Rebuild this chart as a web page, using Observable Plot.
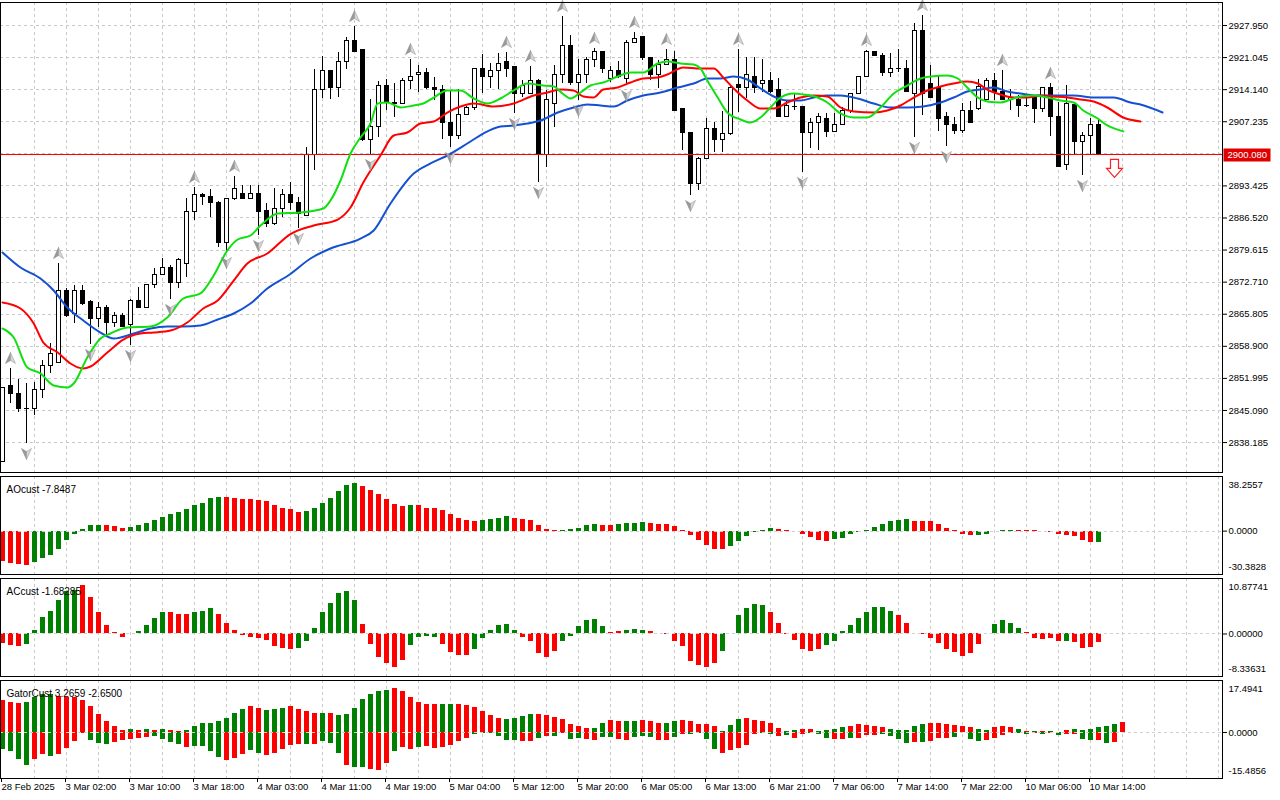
<!DOCTYPE html>
<html><head><meta charset="utf-8">
<script src="https://cdn.jsdelivr.net/npm/d3@7"></script>
<script src="https://cdn.jsdelivr.net/npm/@observablehq/plot@0.6"></script>
<style>
body{margin:0;background:#fff;}
#chart{position:relative;width:1280px;height:800px;overflow:hidden;background:#fff;}
#chart svg{position:absolute;left:0;}
</style></head><body><div id="chart"></div>
<script>
// ---------- price data (H1 candles, index 0 = 28 Feb 2025) ----------
const opens = [2833.9,2850.46,2848.74,2845.3,2845.3,2849.6,2854.77,2855.41,2870.91,2865.75,
2870.91,2868.33,2864.88,2867.25,2863.81,2865.53,2863.59,2868.76,2867.25,2871.99,
2874.35,2875.65,2872.42,2876.72,2887.91,2891.57,2890.93,2889.85,2881.24,2890.5,
2891.79,2890.71,2891.79,2888.13,2885.33,2888.56,2891.36,2889.64,2887.05,2899.97,
2914.17,2918.05,2914.6,2919.99,2924.72,2922.57,2903.2,2906.0,2915.03,2911.37,
2911.16,2916.11,2917.19,2917.62,2914.39,2913.96,2907.07,2904.06,2908.79,2910.3,
2918.48,2916.76,2918.05,2919.99,2918.91,2913.1,2913.31,2916.11,2899.97,2911.16,
2917.19,2923.64,2915.68,2917.4,2920.42,2922.14,2916.54,2918.26,2916.54,2924.29,
2925.37,2921.06,2917.4,2919.55,2920.63,2910.08,2904.71,2893.94,2899.32,2905.78,
2903.2,2904.49,2915.25,2914.39,2916.97,2915.46,2916.11,2913.96,2908.36,2910.51,
2910.51,2904.71,2906.86,2907.93,2904.92,2906.43,2909.44,2913.31,2916.97,2922.35,
2921.49,2917.83,2918.69,2918.69,2913.31,2926.66,2915.46,2914.39,2908.15,2906.64,
2905.35,2909.65,2909.87,2911.81,2916.11,2913.74,2911.81,2911.81,2910.73,2912.88,
2909.87,2914.39,2908.36,2897.82,2910.94,2902.77,2904.06,2906.64];
const highs = [2850.03,2854.12,2851.75,2850.89,2851.11,2855.85,2859.5,2876.72,2871.34,2871.99,
2871.99,2868.76,2868.33,2867.68,2866.18,2865.96,2868.97,2871.56,2872.2,2875.65,
2877.8,2876.29,2877.8,2890.71,2893.08,2891.79,2892.65,2890.07,2890.71,2895.45,
2893.51,2893.51,2893.51,2889.64,2892.86,2892.65,2894.16,2890.93,2901.69,2918.48,
2921.28,2918.26,2922.14,2925.37,2927.73,2922.78,2912.02,2915.89,2916.33,2915.46,
2916.54,2920.63,2919.34,2918.69,2916.76,2915.03,2913.74,2914.17,2910.51,2918.69,
2921.71,2919.77,2921.92,2922.14,2918.9,2916.11,2919.12,2916.33,2913.96,2919.34,
2929.89,2925.8,2920.63,2921.06,2923.0,2922.14,2919.12,2920.2,2924.72,2926.44,
2925.58,2921.06,2920.42,2922.78,2922.35,2910.08,2904.92,2899.54,2907.93,2907.07,
2909.44,2914.82,2922.78,2921.06,2921.06,2920.63,2917.83,2916.54,2911.81,2913.31,
2910.51,2907.93,2909.01,2909.01,2909.01,2910.3,2913.31,2916.97,2922.57,2922.4,
2921.92,2921.92,2922.78,2920.42,2928.38,2930.1,2919.34,2917.19,2909.22,2908.15,
2911.16,2911.59,2916.33,2916.54,2917.62,2918.26,2914.17,2912.88,2912.45,2912.88,
2914.6,2915.46,2911.37,2915.03,2910.94,2904.92,2907.93,2907.93];
const lows = [2833.9,2846.59,2844.65,2837.98,2844.0,2847.66,2853.05,2855.2,2865.1,2863.81,
2867.68,2859.29,2862.95,2861.22,2862.95,2862.95,2859.07,2867.04,2867.04,2871.34,
2874.14,2868.97,2871.34,2873.71,2885.98,2889.21,2886.62,2880.17,2879.09,2890.28,
2890.5,2890.5,2882.75,2884.47,2884.9,2886.62,2888.13,2884.26,2886.84,2896.74,
2912.24,2912.02,2912.45,2918.48,2922.14,2902.98,2900.18,2903.84,2909.65,2908.15,
2910.94,2914.17,2913.53,2914.17,2911.81,2903.41,2901.69,2903.41,2908.58,2909.65,
2913.31,2914.39,2914.17,2916.76,2909.01,2912.45,2913.1,2894.16,2897.39,2906.0,
2915.46,2915.03,2911.81,2915.46,2918.91,2917.62,2915.68,2916.54,2915.03,2924.29,
2920.42,2916.11,2914.39,2919.55,2909.65,2901.04,2891.36,2892.43,2899.11,2900.61,
2900.61,2904.27,2909.22,2912.24,2913.31,2913.53,2913.31,2908.36,2908.36,2909.65,
2896.31,2901.47,2901.04,2903.84,2904.92,2906.43,2909.01,2913.31,2916.76,2921.28,
2916.97,2916.76,2917.83,2913.53,2903.84,2908.58,2912.24,2905.13,2901.9,2904.49,
2904.71,2906.86,2909.65,2911.81,2911.81,2911.81,2909.65,2908.15,2910.3,2906.86,
2909.22,2904.06,2897.6,2896.74,2899.97,2895.66,2899.97,2899.97];
const closes = [2850.03,2848.74,2845.3,2845.4,2849.6,2854.77,2857.35,2870.91,2865.53,2870.91,
2868.11,2864.88,2867.25,2863.81,2865.53,2863.16,2868.76,2867.25,2871.99,2874.35,
2875.65,2872.42,2877.58,2887.91,2891.57,2890.93,2889.85,2881.24,2890.5,2892.86,
2890.71,2891.79,2887.91,2885.33,2888.56,2891.36,2889.64,2887.48,2899.97,2913.96,
2918.05,2914.6,2919.99,2924.72,2922.35,2903.2,2906.21,2915.03,2911.37,2911.16,
2916.11,2916.97,2917.62,2914.39,2913.96,2906.86,2904.06,2908.79,2910.3,2918.48,
2916.76,2918.05,2919.77,2918.69,2913.31,2915.03,2916.11,2899.97,2911.81,2917.19,
2923.64,2915.68,2917.19,2920.42,2922.14,2918.69,2918.05,2916.76,2924.29,2925.15,
2921.06,2917.19,2919.55,2920.63,2909.65,2904.71,2893.94,2899.32,2905.78,2903.2,
2904.49,2914.39,2914.39,2917.19,2914.39,2916.11,2913.74,2908.36,2910.73,2910.45,
2904.71,2906.86,2908.15,2904.92,2906.64,2909.65,2913.1,2916.97,2922.14,2921.28,
2917.83,2918.69,2918.65,2913.53,2926.66,2913.31,2912.45,2907.93,2906.43,2905.35,
2909.65,2906.86,2914.82,2916.11,2913.53,2912.02,2912.45,2910.73,2910.7,2910.08,
2914.39,2908.15,2897.6,2911.16,2902.77,2904.06,2906.64,2900.08];

// ---------- Alligator lines: [bar index, price] ----------
const jaw = [[0,2879.09],[2.25,2875.86],[4.75,2873.49],[6.4,2870.91],[8.1,2867.25],[10.1,2864.45],[12.25,2861.87],[13.9,2860.58],[16.4,2861.66],[18.5,2862.73],[20.6,2863.16],[22.6,2863.16],[24.75,2863.38],[26.9,2864.67],[28.9,2865.96],[31,2868.11],[33.1,2871.34],[35.9,2874.35],[38.5,2877.8],[41,2879.95],[44.75,2882.1],[46.4,2883.82],[48.5,2889.64],[51.4,2896.09],[53.5,2898.25],[55.6,2899.97],[58.1,2902.55],[60.1,2904.7],[62.25,2906.21],[63.9,2906.43],[65.6,2906.86],[67.25,2907.5],[69.4,2909.22],[71.4,2910.3],[73.1,2910.95],[74.75,2910.73],[76.4,2910.51],[78.1,2911.81],[80.1,2912.88],[82.25,2913.53],[84.4,2914.6],[86.4,2915.46],[88.1,2916.54],[89.75,2916.54],[91.4,2916.97],[93.1,2916.33],[94.75,2914.39],[96.4,2912.67],[98.1,2911.81],[99.75,2911.81],[101.4,2912.45],[103.1,2912.88],[104.75,2912.88],[106.9,2912.24],[108.9,2911.16],[111,2910.3],[113.1,2910.3],[115.1,2910.51],[117.25,2911.37],[118.9,2912.45],[120.6,2913.74],[122.25,2914.17],[123.9,2914.6],[125.6,2913.74],[127.25,2913.31],[128.9,2912.88],[131.9,2912.88],[133.9,2912.88],[136.4,2912.45],[138.9,2912.45],[141,2911.37],[142.25,2910.94],[145,2909.22]];
const teeth = [[0,2868.33],[2.25,2867.04],[3.9,2863.81],[5.1,2859.72],[6.9,2857.57],[8.5,2855.2],[10.1,2854.12],[11,2854.55],[13.1,2857.57],[15.1,2860.36],[17.25,2861.66],[18.9,2861.87],[21,2862.3],[23.1,2864.02],[25.1,2867.04],[26.9,2868.76],[28.9,2873.06],[30.6,2876.72],[33.1,2878.87],[35.9,2882.96],[38.9,2884.9],[41.9,2886.19],[43.5,2888.77],[45.1,2894.16],[47.25,2899.97],[48.9,2904.27],[50.6,2904.92],[52.25,2906.86],[53.9,2907.29],[55.6,2909.22],[57.25,2910.51],[58.9,2911.16],[61.4,2910.51],[63.9,2911.16],[66.4,2912.88],[68.1,2913.53],[69.75,2914.17],[71.4,2913.96],[72.6,2912.67],[73.9,2912.45],[75.1,2914.17],[76.9,2914.6],[78.5,2915.68],[80.1,2916.54],[81.9,2916.76],[83.1,2917.4],[85.1,2918.91],[87.25,2918.69],[88.9,2918.69],[90.1,2916.76],[91.4,2914.39],[93.1,2911.81],[94.75,2910.08],[96.4,2910.08],[98.1,2911.37],[99.75,2912.45],[101.4,2912.88],[103.1,2912.67],[104.75,2910.3],[106.4,2909.44],[108.9,2909.22],[110.6,2909.65],[112.25,2910.73],[113.9,2912.45],[115.6,2913.96],[117.25,2914.82],[118.9,2915.46],[120.6,2915.89],[121.9,2915.46],[123.1,2914.17],[124.75,2913.1],[126.4,2912.45],[128.1,2912.45],[129.75,2912.88],[131.4,2912.67],[133.1,2912.45],[134.75,2912.02],[136.4,2911.59],[138.1,2910.3],[140.1,2908.15],[142.25,2907.29]];
const lips = [[0,2862.73],[1.4,2860.79],[3.1,2854.34],[4.75,2853.05],[6.4,2850.46],[8.1,2850.03],[8.9,2850.89],[10.6,2856.49],[12.25,2860.58],[13.5,2861.66],[15.6,2862.95],[18.5,2863.16],[20.6,2865.1],[22.6,2869.19],[24.75,2870.27],[26.4,2874.14],[28.1,2879.52],[29.4,2881.89],[31,2882.75],[32.25,2884.9],[34.4,2887.48],[37.25,2887.7],[40.1,2888.56],[41,2890.28],[42.25,2894.59],[43.5,2900.4],[44.75,2903.84],[46,2906.86],[46.9,2911.16],[48.1,2911.38],[49.75,2910.3],[51.4,2910.73],[52.6,2911.16],[53.9,2912.45],[55.6,2913.96],[57.25,2913.96],[58.9,2912.24],[60.6,2911.16],[62.25,2912.24],[63.9,2913.96],[65.6,2915.46],[67.6,2915.03],[68.9,2914.82],[70,2913.31],[71,2912.24],[72.25,2913.53],[73.5,2915.03],[75.1,2915.68],[76.9,2916.97],[78.5,2917.83],[80.1,2917.83],[81.9,2919.77],[83.1,2920.2],[84.75,2919.77],[86.4,2919.55],[87.25,2918.69],[88.1,2916.11],[89.4,2912.45],[90.6,2909.22],[92.25,2907.72],[93.5,2907.07],[94.75,2908.15],[96,2910.3],[97.25,2912.45],[98.9,2913.31],[100.1,2913.1],[101.9,2912.45],[103.1,2911.37],[104.75,2909.01],[106.4,2908.15],[108.1,2908.15],[109.75,2910.3],[111.4,2913.31],[113.1,2915.03],[114.75,2916.54],[116,2916.97],[118.1,2917.19],[119.4,2916.54],[120.6,2914.6],[121.9,2912.45],[123.1,2911.59],[124.75,2911.37],[126,2912.02],[127.25,2912.67],[128.9,2912.88],[130.6,2912.45],[132.25,2911.81],[133.9,2911.37],[135.1,2909.65],[136.9,2907.93],[138.1,2906.43],[140.1,2905.16]];

// ---------- fractals & signal ----------
const upFractals = [1,7,24,29,44,51,63,66,70,74,79,83,92,108,115,125,131];
const downFractals = [3,11,16,21,28,32,37,46,56,64,67,72,78,86,100,114,118,135];
const signalIdx = 139, signalPrice = 2897.2;

// ---------- AO ----------
const aoVals = [-21.2,-22.4,-23.6,-24.3,-21.9,-19.4,-17.3,-13.1,-6.8,-2.6,
1.4,3.6,3.8,3.7,3.5,2.1,2.8,3.7,5.1,7.2,
9.8,11.4,13.3,14.9,17.7,19.6,22.6,23.3,23.2,22.6,
21.9,21.8,21.2,20.5,18.0,16.1,14.9,13.3,13.5,15.6,
19.6,22.6,27.6,32.0,33.2,31.3,28.3,25.9,21.9,18.7,
17.3,17.7,17.6,16.1,16.0,14.2,11.4,8.6,7.2,6.5,
7.2,7.9,9.1,10.0,9.1,7.9,7.2,3.7,0.9,0.3,
0.5,0.9,1.9,4.0,4.9,4.2,4.1,4.9,5.0,5.6,
5.7,5.4,4.9,4.8,3.5,0.3,-3.3,-6.8,-9.8,-12.6,
-12.7,-10.5,-7.0,-4.0,-1.2,0.5,1.9,1.2,0.5,-0.1,
-2.3,-4.7,-6.3,-7.5,-5.6,-5.1,-2.3,-1.2,0.2,2.8,
4.7,7.0,7.7,7.8,7.0,6.9,6.5,4.7,1.9,0.2,
-2.1,-3.3,-3.2,-2.1,-0.5,0.5,0.6,0.5,0.4,0.3,
-0.1,-1.2,-2.3,-3.3,-4.0,-6.8,-7.9,-7.8487];
const aoColors = ("rrrr"+"ggggggggg"+"rrr"+"gggggggggggg"+"rrrrrrrrrr"+"ggggggg"+"rrrrrr"+"g"+"rrrrrrrr"+"gggg"+"rrrrrr"+"ggggg"+"rr"+"gggg"+"rrrrrrrrrr"+"gggggg"+"rrrrrrr"+"gggggggggg"+"rrrrrrrr"+"ggggg"+"rrrrrrrrrr"+"g").split("");
const aoRange = [38.2557, -30.3828];

// ---------- AC ----------
const acVals = [-1.9,-2.35,-2.45,-2.1,0.65,3.3,4.4,6.5,8.4,8.45,
9.5,7.2,4.2,1.6,0.3,-0.65,0.1,0.5,1.6,3.1,
4.2,4.2,3.9,3.8,4.2,4.4,5.0,3.8,2.0,0.65,
-0.3,-0.65,-0.8,-1.2,-2.4,-2.75,-3.0,-2.75,-1.45,1.05,
4.2,5.9,7.9,8.3,6.5,1.8,-2.1,-4.6,-5.8,-6.5,
-5.2,-2.2,-0.65,-0.45,-0.65,-2.1,-3.6,-4.2,-4.2,-3.0,
-0.85,0.65,1.6,1.8,0.65,-0.65,-1.45,-3.8,-4.6,-3.4,
-1.45,-0.45,1.5,2.6,2.8,1.5,0.25,0.45,0.65,0.85,
0.65,0.45,0.05,-0.05,-1.45,-2.4,-5.4,-6.1,-6.5,-5.8,
-3.4,0.1,3.6,5.0,5.75,5.55,4.2,2.0,-0.1,-1.25,
-3.0,-3.4,-3.1,-2.2,-1.45,0.45,1.6,3.1,4.2,5.2,
5.1,4.4,3.65,2.0,0.1,-0.05,-0.85,-1.8,-3.0,-3.6,
-4.4,-3.85,-2.1,0.1,1.8,2.6,2.15,1.05,0.25,-0.85,
-1.1,-0.85,-1.45,-1.5,-1.65,-2.8,-2.6,-1.68285];
const acColors = ("rrrgggggggrrrrrrgggggrrrgggrrrrrrrrrrggggggggrrrrrrggggrrrrggggggrrrrrggggggrrgggrrrrrrrrrggggggrrrrrrrgggggggggrrrrrrrrrrrgggggrrrrrgrrrrgg").split("");
const acRange = [10.87741, -8.33631];

// ---------- Gator ----------
const gatorUp = [10.7,10.1,9.9,10.1,11.8,12.7,12.9,12.0,11.8,11.7,
10.7,8.6,6.1,3.7,2.0,0.8,0.9,0.6,0.9,0.6,
0.9,0.6,0.3,0.6,1.9,3.0,3.1,3.7,4.7,6.4,
7.7,8.6,8.1,7.4,7.7,8.1,8.6,7.6,7.1,6.5,
6.4,6.5,5.6,6.2,8.1,11.1,12.8,13.7,14.0,14.8,
13.8,11.8,10.1,9.5,9.4,9.3,9.4,9.5,9.0,8.4,
7.1,5.6,4.8,4.5,4.8,5.4,5.9,6.1,5.7,5.0,
4.5,2.8,1.9,1.5,1.35,3.0,3.9,3.8,3.6,3.7,
3.9,3.6,3.0,2.95,3.7,3.9,3.6,2.8,2.6,1.9,
0.35,2.2,4.3,4.7,3.9,3.7,3.0,1.5,0.35,0.55,
0.9,0.85,0.35,0.55,1.1,1.7,2.0,2.6,2.2,2.15,
1.7,1.1,0.5,0.8,1.9,2.6,3.0,2.95,2.6,2.2,
2.15,1.6,0.9,0.6,1.6,1.9,1.6,0.9,0.25,0.3,
0.2,0.25,0.1,0.6,0.9,0.6,0.9,1.6,1.9,2.6,
3.3,3.35,3.2659];
const gatorUpColors = ("rrrggggrrrrrrrrrgrgrgrrggggggggrrgggrrrrgrgggggggrrrrrrggrrrrrrggggrrrrrrrggrrggrrrggrrrrrgggrrrrrggrrggggrrrrrgggggrrrrrrggrrrgrgrggrggggggr").split("");
const gatorDown = [-5.6,-6.4,-9.0,-11.2,-9.0,-7.5,-8.1,-7.5,-5.4,-3.0,
-0.3,-2.8,-3.6,-3.9,-3.4,-2.6,-2.5,-2.0,-1.7,-1.3,
-2.2,-3.4,-3.9,-5.0,-4.7,-4.8,-6.4,-8.4,-9.3,-8.8,
-7.3,-5.9,-7.1,-7.6,-7.1,-5.6,-4.3,-4.0,-3.9,-4.0,
-3.0,-3.7,-7.1,-11.0,-11.8,-11.7,-12.3,-12.7,-10.4,-6.4,
-5.0,-5.6,-5.0,-4.7,-5.3,-5.0,-4.3,-3.0,-2.0,-0.6,
-0.2,-0.3,-1.3,-2.6,-2.7,-3.0,-3.05,-2.0,-1.3,-1.35,
-0.5,-2.2,-2.0,-2.2,-2.8,-1.7,-1.65,-2.5,-2.55,-1.7,
-1.35,-1.7,-2.8,-2.85,-1.7,-0.6,-0.8,-0.5,-2.2,-5.6,
-7.0,-5.9,-5.3,-4.5,-0.6,-0.4,-0.55,-1.35,-1.1,-1.9,
-0.55,-0.3,-0.55,-1.9,-2.5,-2.45,-2.0,-2.1,-1.1,-0.9,
-0.8,-1.2,-2.2,-3.7,-3.4,-3.45,-3.0,-2.0,-2.05,-1.7,
-0.1,-2.4,-3.0,-2.6,-2.0,-0.9,-0.3,-0.4,-0.6,-0.3,
-0.6,-0.2,-0.9,-0.6,-0.55,-2.4,-2.8,-2.7,-3.7,-3.4,
-2.65];
const gatorDownColors = ("ggggrrgrrrrgggrrrrrggggrggggrrrggrrrrrgrgggrggrrrgrrgrrrrrrggggggrrgrgrggrrggrrgggrrgrggggrrrrrggrgrrgggrrgrrrggggrgrrrgrggrrrrggrgrgrrggrgr").split("");
const gatorRange = [17.4941, -15.4856];

// ---------- axis text ----------
const priceTicks = [2927.950,2921.045,2914.140,2907.235,2893.425,2886.520,2879.615,2872.710,2865.805,2858.900,2851.995,2845.090,2838.185];
const priceGrid = [2927.950,2921.045,2914.140,2907.235,2900.330,2893.425,2886.520,2879.615,2872.710,2865.805,2858.900,2851.995,2845.090,2838.185];
const xTickIdx = [0,8,16,24,32,40,48,56,64,72,80,88,96,104,112,120,128,136];
const xTickLabels = ["28 Feb 2025","3 Mar 02:00","3 Mar 10:00","3 Mar 18:00","4 Mar 03:00","4 Mar 11:00","4 Mar 19:00","5 Mar 04:00","5 Mar 12:00","5 Mar 20:00","6 Mar 05:00","6 Mar 13:00","6 Mar 21:00","7 Mar 06:00","7 Mar 14:00","7 Mar 22:00","10 Mar 06:00","10 Mar 14:00"];

// ---------- rendering ----------
const W = 1280, MR = 58;
const XD = [-0.25, 152.5];
const GRID = "#c8c8c8";
const GREEN = "#008000", RED = "#ff0000";
const STYLE = {background: "transparent", fontFamily: "'Liberation Sans', Arial, sans-serif", fontSize: "9.5px", color: "#000"};
const gridBars = d3.range(4, 153, 4);
const loc = d3.formatLocale({decimal: ".", thousands: ",", grouping: [3], currency: ["$", ""], minus: "-"});
const fmt3 = loc.format(".3f"), fmt4 = loc.format(".4f"), fmt5 = loc.format(".5f");

const candles = opens.map((o, i) => ({i, o, h: highs[i], l: lows[i], c: closes[i]}));
const lastClose = closes[closes.length - 1];

const upL = {draw(c){c.moveTo(0,-6);c.lineTo(0,2);c.lineTo(-5,5);c.closePath();}};
const upR = {draw(c){c.moveTo(0,-6);c.lineTo(5,5);c.lineTo(0,2);c.closePath();}};
const dnL = {draw(c){c.moveTo(0,6);c.lineTo(0,-2);c.lineTo(-5,-5);c.closePath();}};
const dnR = {draw(c){c.moveTo(0,6);c.lineTo(5,-5);c.lineTo(0,-2);c.closePath();}};
const arrowDown = {draw(c){c.moveTo(-4,-9);c.lineTo(4,-9);c.lineTo(4,0);c.lineTo(8,0);c.lineTo(0,9);c.lineTo(-8,0);c.lineTo(-4,0);c.closePath();}};
const tagSym = {draw(c){c.moveTo(1,-6.5);c.lineTo(48,-6.5);c.lineTo(48,6.5);c.lineTo(1,6.5);c.closePath();}};

const upF = upFractals.map(i => ({i, p: highs[i]}));
const dnF = downFractals.map(i => ({i, p: lows[i]}));

const main = Plot.plot({
  width: W, height: 474, marginTop: 2, marginBottom: 2, marginLeft: 0, marginRight: MR,
  x: {domain: XD, axis: null}, y: {domain: [2831.74, 2932.90], axis: null},
  style: STYLE,
  marks: [
    Plot.ruleX(gridBars, {stroke: GRID, strokeDasharray: "3,3", shapeRendering: "crispEdges"}),
    Plot.ruleY(priceGrid, {stroke: GRID, strokeDasharray: "3,3", shapeRendering: "crispEdges"}),
    Plot.ruleX(candles, {x: "i", y1: "l", y2: "h", stroke: "#000", shapeRendering: "crispEdges"}),
    Plot.rect(candles.filter(d => d.c >= d.o), {x1: d => d.i - 0.25, x2: d => d.i + 0.25, y1: "o", y2: "c", fill: "#fff", stroke: "#000", shapeRendering: "crispEdges"}),
    Plot.rect(candles.filter(d => d.c < d.o), {x1: d => d.i - 0.25, x2: d => d.i + 0.25, y1: "o", y2: "c", fill: "#000", stroke: "#000", shapeRendering: "crispEdges"}),
    Plot.ruleY([lastClose], {stroke: "#ff0000", shapeRendering: "crispEdges"}),
    Plot.line(jaw, {x: d => d[0], y: d => d[1], stroke: "#1450d2", strokeWidth: 2, curve: "monotone-x"}),
    Plot.line(teeth, {x: d => d[0], y: d => d[1], stroke: "#ff0000", strokeWidth: 2, curve: "monotone-x"}),
    Plot.line(lips, {x: d => d[0], y: d => d[1], stroke: "#10e010", strokeWidth: 2, curve: "monotone-x"}),
    Plot.dot(upF, {x: "i", y: "p", dy: -10, r: 1, symbol: upL, fill: "#9a9a9a", stroke: "#808080", strokeWidth: 0.5}),
    Plot.dot(upF, {x: "i", y: "p", dy: -10, r: 1, symbol: upR, fill: "#d6d6d6", stroke: "#909090", strokeWidth: 0.5}),
    Plot.dot(dnF, {x: "i", y: "p", dy: 10, r: 1, symbol: dnL, fill: "#9a9a9a", stroke: "#808080", strokeWidth: 0.5}),
    Plot.dot(dnF, {x: "i", y: "p", dy: 10, r: 1, symbol: dnR, fill: "#d6d6d6", stroke: "#909090", strokeWidth: 0.5}),
    Plot.dot([{i: signalIdx, p: signalPrice}], {x: "i", y: "p", r: 1, symbol: arrowDown, fill: "#fff", stroke: "#ff2020", strokeWidth: 1.2}),
    Plot.frame({stroke: "#000"}),
    Plot.axisY({anchor: "right", ticks: priceTicks, tickFormat: fmt3, tickSize: 4, tickPadding: 2, label: null}),
    Plot.dot([lastClose], {x: () => XD[1], y: d => d, r: 1, symbol: tagSym, fill: "#e00000", stroke: "none"}),
    Plot.text([lastClose], {x: () => XD[1], y: d => d, text: d => fmt3(d), dx: 5, textAnchor: "start", fill: "#fff"})
  ]
});

function panel(height, mb, range, series, name, fmt, extra) {
  const marks = [Plot.ruleX(gridBars, {stroke: GRID, strokeDasharray: "3,3", shapeRendering: "crispEdges"})];
  for (const s of series) {
    const data = s.vals.map((v, i) => ({i, v, c: s.cols[i]}));
    for (const [k, col] of [["g", GREEN], ["r", RED]]) {
      marks.push(Plot.rect(data.filter(d => d.c === k), {x1: d => d.i - 0.3125, x2: d => d.i + 0.3125, y1: 0, y2: "v", fill: col, shapeRendering: "crispEdges"}));
    }
  }
  marks.push(
    Plot.ruleY([0], {stroke: "#d0d0d0", strokeDasharray: "3,3", shapeRendering: "crispEdges"}),
    Plot.frame({stroke: "#000"}),
    Plot.text([name], {frameAnchor: "top-left", dx: 6, dy: 9, textAnchor: "start", fill: "#000", fontSize: 10}),
    Plot.axisY({anchor: "right", ticks: [0], tickFormat: fmt, tickSize: 4, tickPadding: 2, label: null}),
    Plot.text([range[0]], {frameAnchor: "top-right", dx: 6, dy: 5, textAnchor: "start", text: d => fmt(d)}),
    Plot.text([range[1]], {frameAnchor: "bottom-right", dx: 6, dy: -4.5, textAnchor: "start", text: d => fmt(d)}),
    ...(extra || [])
  );
  return Plot.plot({
    width: W, height, marginTop: 2, marginBottom: mb, marginLeft: 0, marginRight: MR,
    x: {domain: XD, axis: null}, y: {domain: [range[1], range[0]], axis: null},
    style: STYLE, marks
  });
}

const ao = panel(102, 2, aoRange, [{vals: aoVals, cols: aoColors}], "AOcust " + fmt4(aoVals[aoVals.length - 1]), fmt4);
const ac = panel(102, 2, acRange, [{vals: acVals, cols: acColors}], "ACcust " + fmt5(acVals[acVals.length - 1]), fmt5);
const labelMap = new Map(xTickIdx.map((d, k) => [d, xTickLabels[k]]));
const gator = panel(122, 22, gatorRange, [{vals: gatorUp, cols: gatorUpColors}, {vals: gatorDown, cols: gatorDownColors}],
  "GatorCust " + fmt4(gatorUp[gatorUp.length - 1]) + " " + fmt4(gatorDown[gatorDown.length - 1]), fmt4,
  [Plot.axisX({anchor: "bottom", ticks: xTickIdx, tickFormat: d => labelMap.get(d), tickSize: 4, tickPadding: 1, textAnchor: "start", dx: -1, label: null})]);

const chart = document.getElementById("chart");
[[main, 0], [ao, 474], [ac, 576], [gator, 678]].forEach(([svg, top]) => {
  svg.style.top = top + "px";
  chart.appendChild(svg);
});
</script></body></html>
